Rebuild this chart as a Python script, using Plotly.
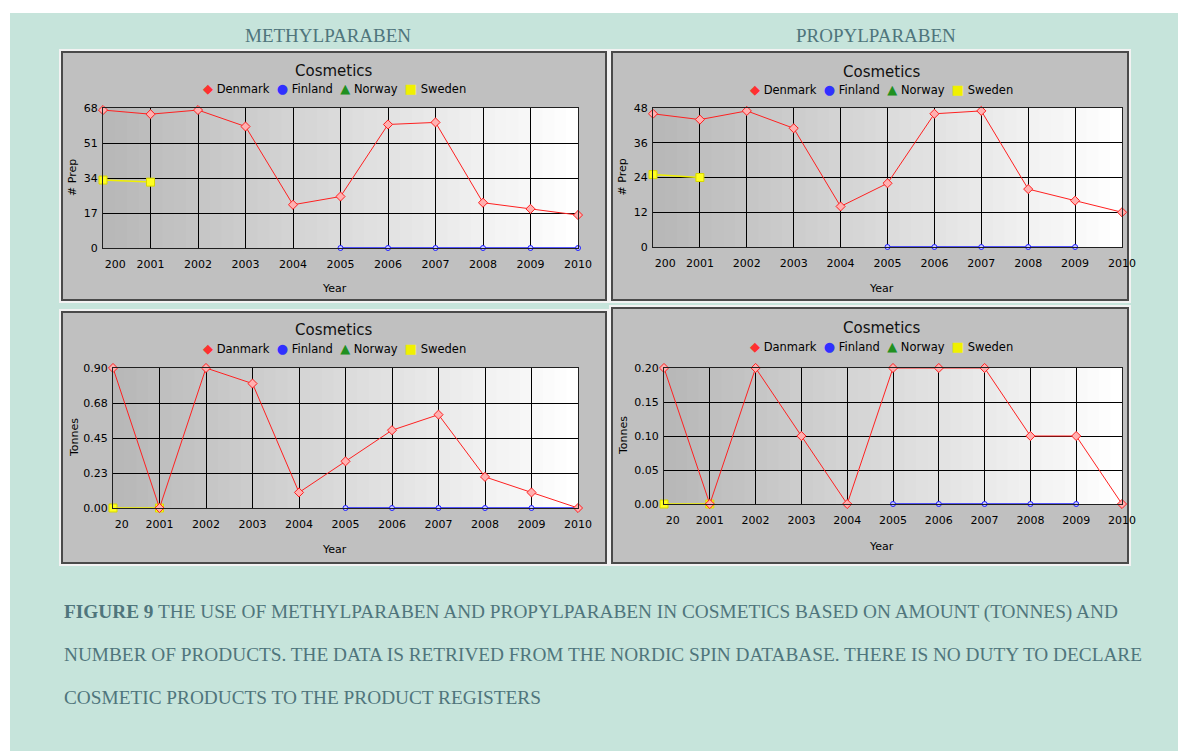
import plotly.graph_objects as go

W, H = 1186, 751
PAGE_OFFSET = 8  # the page body margin shifts the figure by this many pixels

years = list(range(2000, 2011))
years_fin_a = [2005, 2006, 2007, 2008, 2009, 2010]
years_fin_b = [2005, 2006, 2007, 2008, 2009]
years_swe = [2000, 2001]

# METHYLPARABEN, number of preparations
methyl_prep_denmark = [67, 65, 67, 59, 21, 25, 60, 61, 22, 19, 16]
methyl_prep_finland = [0, 0, 0, 0, 0, 0]
methyl_prep_sweden = [33, 32]
# PROPYLPARABEN, number of preparations
propyl_prep_denmark = [46, 44, 47, 41, 14, 22, 46, 47, 20, 16, 12]
propyl_prep_finland = [0, 0, 0, 0, 0]
propyl_prep_sweden = [25, 24]
# METHYLPARABEN, tonnes
methyl_ton_denmark = [0.9, 0.0, 0.9, 0.8, 0.1, 0.3, 0.5, 0.6, 0.2, 0.1, 0.0]
methyl_ton_finland = [0, 0, 0, 0, 0, 0]
methyl_ton_sweden = [0, 0]
# PROPYLPARABEN, tonnes
propyl_ton_denmark = [0.2, 0.0, 0.2, 0.1, 0.0, 0.2, 0.2, 0.2, 0.1, 0.1, 0.0]
propyl_ton_finland = [0, 0, 0, 0, 0]
propyl_ton_sweden = [0, 0]

yticks_tl = [0, 17, 34, 51, 68]
yticks_tr = [0, 12, 24, 36, 48]
yticks_bl = [0, 0.225, 0.45, 0.675, 0.9]
ytext_bl = ["0.00", "0.23", "0.45", "0.68", "0.90"]
yticks_br = [0, 0.05, 0.1, 0.15, 0.2]
ytext_br = ["0.00", "0.05", "0.10", "0.15", "0.20"]

NB = "\u00a0"


def px_x(p):
    return (p - PAGE_OFFSET) / W


def px_y(p):
    return 1 - (p - PAGE_OFFSET) / H


panels = [
    dict(ax="", frame=(62, 52, 606, 300), plot=(103, 108, 578, 248), cx=334, ty=71, ly=88, xty=289, ytx=72,
         den=methyl_prep_denmark, fin=methyl_prep_finland, finx=years_fin_a, swe=methyl_prep_sweden,
         yt=yticks_tl, ytt=[str(v) for v in yticks_tl], first=NB * 7 + "200", ytitle="# Prep", dname="Denmark"),
    dict(ax="2", frame=(612, 52, 1128, 300), plot=(653, 108, 1122, 247), cx=882, ty=72, ly=89, xty=289, ytx=622,
         den=propyl_prep_denmark, fin=propyl_prep_finland, finx=years_fin_b, swe=propyl_prep_sweden,
         yt=yticks_tr, ytt=[str(v) for v in yticks_tr], first=NB * 7 + "200", ytitle="# Prep", dname="Denmark"),
    dict(ax="3", frame=(62, 312, 606, 563), plot=(113, 368, 578, 508), cx=334, ty=330, ly=348, xty=549, ytx=74,
         den=methyl_ton_denmark, fin=methyl_ton_finland, finx=years_fin_a, swe=methyl_ton_sweden,
         yt=yticks_bl, ytt=ytext_bl, first=NB * 5 + "20", ytitle="Tonnes", dname="Danmark"),
    dict(ax="4", frame=(612, 308, 1128, 563), plot=(664, 368, 1122, 504), cx=882, ty=328, ly=346, xty=546, ytx=624,
         den=propyl_ton_denmark, fin=propyl_ton_finland, finx=years_fin_b, swe=propyl_ton_sweden,
         yt=yticks_br, ytt=ytext_br, first=NB * 5 + "20", ytitle="Tonnes", dname="Danmark"),
]

fig = go.Figure()
shapes = []
annotations = []
font_chart = "DejaVu Sans"

# page background
shapes.append(dict(type="rect", xref="paper", yref="paper", x0=px_x(10), x1=1, y0=0, y1=px_y(13),
                   fillcolor="#c6e4db", line=dict(width=0), layer="below"))

for p in panels:
    a = p["ax"]
    fx0, fy0, fx1, fy1 = p["frame"]
    x0, y0, x1, y1 = p["plot"]
    # panel frame
    shapes.append(dict(type="rect", xref="paper", yref="paper", x0=px_x(fx0 - 3), x1=px_x(fx1 + 3),
                       y0=px_y(fy1 + 3), y1=px_y(fy0 - 3), fillcolor="#f2f2f2", line=dict(width=0), layer="below"))
    shapes.append(dict(type="rect", xref="paper", yref="paper", x0=px_x(fx0), x1=px_x(fx1),
                       y0=px_y(fy1), y1=px_y(fy0), fillcolor="#c0c0c0", line=dict(color="#4a4a4a", width=2),
                       layer="below"))
    # gradient plot background
    n = 40
    for i in range(n):
        t = i / (n - 1)
        c = int(184 + (255 - 184) * t)
        shapes.append(dict(type="rect", xref="x%s domain" % a, yref="y%s domain" % a, x0=i / n, x1=(i + 1) / n + 0.002,
                           y0=0, y1=1, fillcolor="rgb(%d,%d,%d)" % (c, c, c), line=dict(width=0), layer="below"))

    xa = "x" + a
    ya = "y" + a
    fig.add_trace(go.Scatter(x=years_swe, y=p["swe"], mode="lines+markers", xaxis=xa, yaxis=ya, cliponaxis=False,
                             line=dict(color="#f0f000", width=1.5),
                             marker=dict(symbol="square", size=8, color="#ffff20", line=dict(color="#d8d800", width=1)),
                             showlegend=False))
    fig.add_trace(go.Scatter(x=p["finx"], y=p["fin"], mode="lines+markers", xaxis=xa, yaxis=ya, cliponaxis=False,
                             line=dict(color="#2020ff", width=1.5),
                             marker=dict(symbol="circle", size=5, color="#c8c8ff", line=dict(color="#2020ff", width=1)),
                             showlegend=False))
    fig.add_trace(go.Scatter(x=years, y=p["den"], mode="lines+markers", xaxis=xa, yaxis=ya, cliponaxis=False,
                             line=dict(color="#ff2020", width=1),
                             marker=dict(symbol="diamond", size=7, color="#ffb0b0", line=dict(color="#ff2020", width=1)),
                             showlegend=False))

    xkey = "xaxis" + a
    ykey = "yaxis" + a
    fig.update_layout(**{
        xkey: dict(domain=[px_x(x0), px_x(x1)], anchor="y" + a, range=[2000, 2010], automargin=False,
                   tickvals=years, ticktext=[p["first"]] + [str(y) for y in years[1:]],
                   showgrid=True, gridcolor="#000000", gridwidth=1, zeroline=False,
                   showline=True, linecolor="#202020", linewidth=1, mirror=True, ticks="",
                   tickfont=dict(family=font_chart, size=11, color="#000000"), ticklabelstandoff=6),
        ykey: dict(domain=[px_y(y1), px_y(y0)], anchor="x" + a, range=[p["yt"][0], p["yt"][-1]], automargin=False,
                   tickvals=p["yt"], ticktext=p["ytt"],
                   showgrid=True, gridcolor="#000000", gridwidth=1, zeroline=False,
                   showline=True, linecolor="#202020", linewidth=1, mirror=True, ticks="",
                   tickfont=dict(family=font_chart, size=11, color="#000000"), ticklabelstandoff=2),
    })

    annotations.append(dict(text="Cosmetics", x=px_x(p["cx"]), y=px_y(p["ty"]), xref="paper", yref="paper",
                            showarrow=False, xanchor="center", yanchor="middle",
                            font=dict(family=font_chart, size=15, color="#101010")))
    legend_txt = ("<span style='color:#ff3030;font-size:13px'>◆</span> %s  "
                  "<span style='color:#3030ff;font-size:13px'>●</span> Finland  "
                  "<span style='color:#209020;font-size:13px'>▲</span> Norway  "
                  "<span style='color:#f0f000;font-size:13px'>■</span> Sweden") % p["dname"]
    annotations.append(dict(text=legend_txt, x=px_x(p["cx"]), y=px_y(p["ly"]), xref="paper", yref="paper",
                            showarrow=False, xanchor="center", yanchor="middle",
                            font=dict(family=font_chart, size=11.5, color="#000000")))
    annotations.append(dict(text="Year", x=px_x(p["cx"]), y=px_y(p["xty"]), xref="paper", yref="paper",
                            showarrow=False, xanchor="center", yanchor="middle",
                            font=dict(family=font_chart, size=11, color="#000000")))
    annotations.append(dict(text=p["ytitle"], x=px_x(p["ytx"]), y=px_y((y0 + y1) / 2), xref="paper", yref="paper",
                            showarrow=False, xanchor="center", yanchor="middle", textangle=-90,
                            font=dict(family=font_chart, size=11, color="#000000")))

# page headers and caption
serif = "Liberation Serif"
teal = "#4f757c"
annotations.append(dict(text="METHYLPARABEN", x=px_x(328), y=px_y(35), xref="paper", yref="paper", showarrow=False,
                        xanchor="center", yanchor="middle", font=dict(family=serif, size=19, color=teal)))
annotations.append(dict(text="PROPYLPARABEN", x=px_x(876), y=px_y(35), xref="paper", yref="paper", showarrow=False,
                        xanchor="center", yanchor="middle", font=dict(family=serif, size=19, color=teal)))
caption = [
    "<b>FIGURE 9</b> THE USE OF METHYLPARABEN AND PROPYLPARABEN IN COSMETICS BASED ON AMOUNT (TONNES) AND",
    "NUMBER OF PRODUCTS. THE DATA IS RETRIVED FROM THE NORDIC SPIN DATABASE. THERE IS NO DUTY TO DECLARE",
    "COSMETIC PRODUCTS TO THE PRODUCT REGISTERS",
]
for i, line in enumerate(caption):
    annotations.append(dict(text=line, x=px_x(62), y=px_y(612 + 42.5 * i), xref="paper", yref="paper",
                            showarrow=False, xanchor="left", yanchor="middle",
                            font=dict(family=serif, size=19.3, color=teal)))

fig.update_layout(width=W, height=H, autosize=False, margin=dict(l=0, r=0, t=0, b=0, pad=0),
                  paper_bgcolor="#ffffff", plot_bgcolor="rgba(0,0,0,0)",
                  shapes=shapes, annotations=annotations, showlegend=False)

fig.write_html("out.html")
